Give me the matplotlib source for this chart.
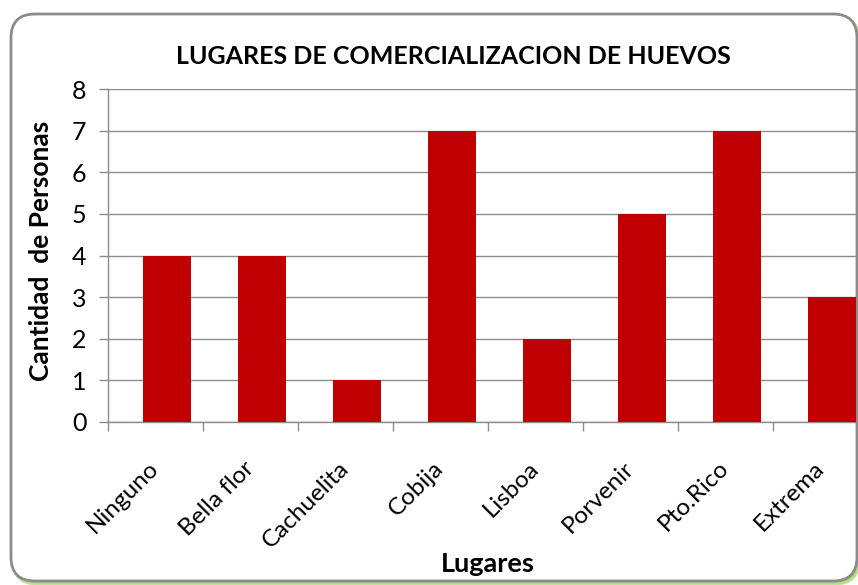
import numpy as np
import matplotlib
matplotlib.use("Agg")
import matplotlib.pyplot as plt
from matplotlib.patches import FancyBboxPatch
from matplotlib.transforms import IdentityTransform

lugares = ["Ninguno", "Bella flor", "Cachuelita", "Cobija",
           "Lisboa", "Porvenir", "Pto.Rico", "Extrema"]
personas = [4, 4, 1, 7, 2, 5, 7, 3]
y_ticks = [0, 1, 2, 3, 4, 5, 6, 7, 8]

W, H = 858, 585
fig = plt.figure(figsize=(W / 100, H / 100), dpi=100)
plt.rcParams["font.family"] = ["Lato", "DejaVu Sans"]

# marco redondeado con sombra verde
sombra = FancyBboxPatch((13, 1), 846, 568, boxstyle="round,pad=0,rounding_size=24",
                        transform=IdentityTransform(), facecolor="#92D050",
                        edgecolor="#B5E08A", lw=2, alpha=0.9, zorder=-12)
marco = FancyBboxPatch((11, 4), 846, 567, boxstyle="round,pad=0,rounding_size=24",
                       transform=IdentityTransform(), facecolor="white",
                       edgecolor="#8C8C8C", lw=2, zorder=-11)
fig.patches.extend([sombra, marco])

ax = fig.add_axes([108 / W, 163.3 / H, 760 / W, 332.4 / H])
ax.patch.set_alpha(0)

x = np.arange(len(lugares))
ax.bar(x + 0.62, personas, width=0.5, color="#C00000", zorder=3)

ax.set_xlim(0, len(lugares))
ax.set_ylim(0, 8)
ax.set_yticks(y_ticks)
ax.set_xticks(np.arange(len(lugares) + 1))
ax.set_xticklabels([])
ax.set_xticks(x + 0.5, minor=True)
ax.set_xticklabels(lugares, minor=True, rotation=45, ha="right", va="center",
                   rotation_mode="anchor", fontsize=17.5)
ax.tick_params(axis="x", which="minor", length=0, pad=31)
ax.tick_params(axis="both", which="major", length=6.5, width=1, color="#8C8C8C",
               labelsize=18)
ax.tick_params(axis="y", pad=9)

ax.grid(axis="y", color="#8C8C8C", lw=1, zorder=0)
ax.set_axisbelow(True)
for s in ["top", "right"]:
    ax.spines[s].set_visible(False)
for s in ["left", "bottom"]:
    ax.spines[s].set_color("#8C8C8C")
    ax.spines[s].set_linewidth(1)

fig.text(453 / W, 1 - 57 / H, "LUGARES DE COMERCIALIZACION DE HUEVOS",
         ha="center", va="center", fontsize=18, fontweight="bold")
fig.text(41 / W, 1 - 251 / H, "Cantidad  de Personas", rotation=90,
         ha="center", va="center", fontsize=19, fontweight="bold")
fig.text(488 / W, 1 - 564 / H, "Lugares", ha="center", va="center",
         fontsize=19.5, fontweight="bold")

fig.savefig("out.png", dpi=100)
